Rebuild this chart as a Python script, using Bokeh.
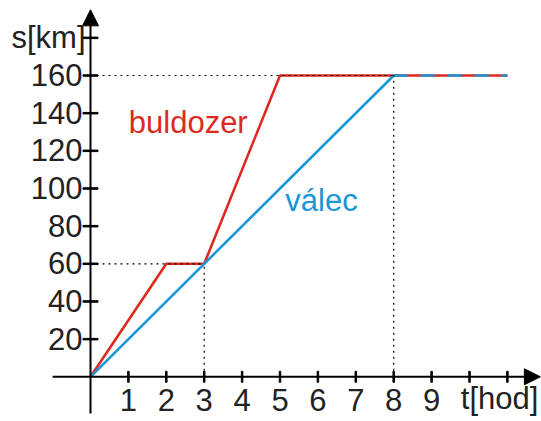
from bokeh.plotting import figure
from bokeh.models import Range1d, Arrow, NormalHead, Label
from bokeh.core.properties import value
from bokeh.embed import file_html
from bokeh.resources import INLINE

# ---- data ----
t_buldozer = [0, 2, 3, 5, 11]
s_buldozer = [0, 60, 60, 160, 160]
t_valec = [0, 8, 11]
s_valec = [0, 160, 160]
guide_t = [3, 8]
guide_s = [60, 160]
x_ticks = [1, 2, 3, 4, 5, 6, 7, 8, 9, 10, 11]
x_tick_labels = ["1", "2", "3", "4", "5", "6", "7", "8", "9", "", ""]
y_ticks = [20, 40, 60, 80, 100, 120, 140, 160, 180]
y_tick_labels = ["20", "40", "60", "80", "100", "120", "140", "160", ""]

RED = "#dc2a20"
BLUE = "#1b96d6"
INK = "#222222"
FONT = "Liberation Sans"
FS = "31px"
BL = -12  # baseline correction (px)

W, H = 541, 421
ox, oy = 90.0, 376.3      # origin in canvas px
sx, sy = 37.9, 1.883      # px per unit
p = figure(width=W, height=H, output_backend="svg", toolbar_location=None,
           x_axis_type=None, y_axis_type=None, min_border=0,
           x_range=Range1d(-ox / sx, (W - ox) / sx),
           y_range=Range1d(-(H - oy) / sy, oy / sy))
p.outline_line_color = None
p.background_fill_color = "white"

# axes
ax_style = dict(line_color="black", line_width=2)
p.add_layout(Arrow(end=NormalHead(size=16, fill_color="black", line_color="black"),
                   x_start=-1.0, y_start=0, x_end=11.87, y_end=0, **ax_style))
p.add_layout(Arrow(end=NormalHead(size=16, fill_color="black", line_color="black"),
                   x_start=0, y_start=-19.5, x_end=0, y_end=194.9, **ax_style))

# tick marks
p.rect(x=x_ticks, y=[0] * len(x_ticks), width=1.5, height=11,
       width_units="screen", height_units="screen", color="black")
p.rect(x=[0] * len(y_ticks), y=y_ticks, width=15, height=1.5,
       width_units="screen", height_units="screen", color="black")

# series
p.line(t_buldozer, s_buldozer, line_color=RED, line_width=2.6)
p.line(t_valec[:2], s_valec[:2], line_color=BLUE, line_width=2.6)
p.line(t_valec[1:], s_valec[1:], line_color=BLUE, line_width=2.6, line_dash="14 13")

# guide dotted lines
for gt, gs in zip(guide_t, guide_s):
    p.line([0, gt], [gs, gs], line_color="black", line_width=1.2, line_dash="2 4")
    p.line([gt, gt], [0, gs], line_color="black", line_width=1.2, line_dash="2 4")

# tick labels
p.text(x=x_ticks, y=[0] * len(x_ticks), text=x_tick_labels, text_align="center",
       text_baseline="alphabetic", y_offset=35 + BL, text_font=value(FONT),
       text_font_size=value(FS), text_color=INK)
p.text(x=[0] * len(y_ticks), y=y_ticks, text=y_tick_labels, text_align="right",
       text_baseline="alphabetic", x_offset=-8, y_offset=11.5 + BL,
       text_font=value(FONT), text_font_size=value(FS), text_color=INK)

# axis titles
p.add_layout(Label(x=0, y=180, text="s[km]", text_align="right", text_baseline="alphabetic",
                   x_offset=-5, y_offset=-11.5 - BL, text_font=FONT, text_font_size=FS,
                   text_color=INK))
p.add_layout(Label(x=11, y=0, text="t[hod]", text_align="right", text_baseline="alphabetic",
                   x_offset=31, y_offset=-34 - BL, text_font=FONT, text_font_size=FS,
                   text_color=INK))

# series labels
p.add_layout(Label(x=1.01, y=128.7, y_offset=-BL, text="buldozer", text_baseline="alphabetic",
                   text_font=FONT, text_font_size=FS, text_color=RED))
p.add_layout(Label(x=5.14, y=87.4, y_offset=-BL, text="válec", text_baseline="alphabetic",
                   text_font=FONT, text_font_size=FS, text_color=BLUE))

open("out.html", "w").write(file_html(p, INLINE))
